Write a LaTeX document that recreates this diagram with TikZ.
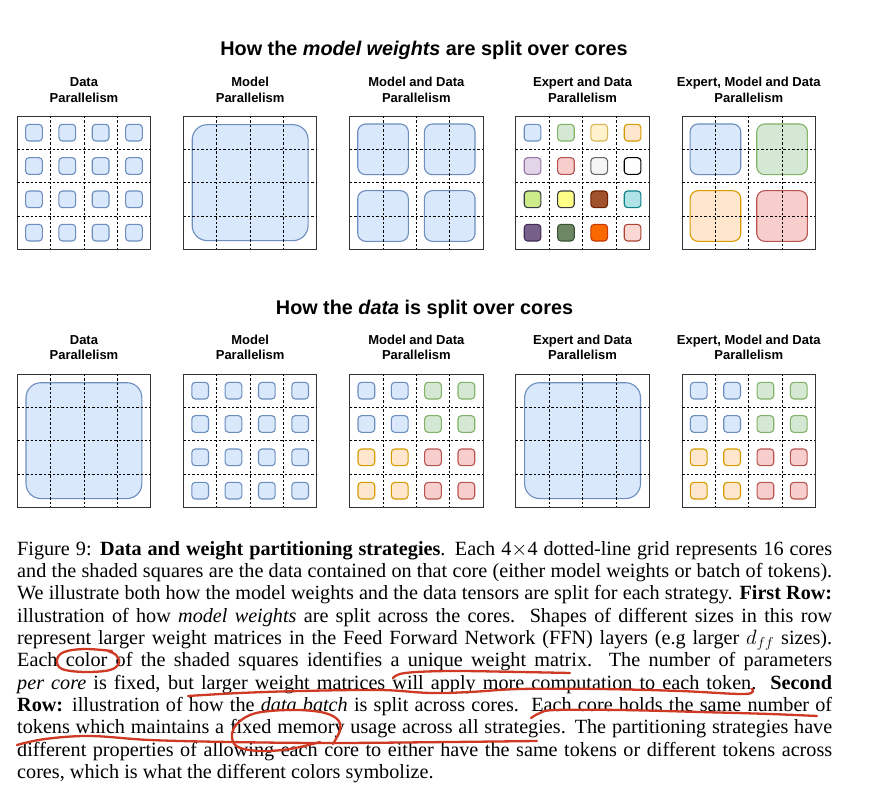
\documentclass[tikz,border=0pt]{standalone}
\usepackage{fontspec}
\setmainfont{Liberation Serif}
\newfontfamily\hvf{Liberation Sans}
\definecolor{blF}{HTML}{DAE8FC}\definecolor{blD}{HTML}{6C8EBF}
\definecolor{grF}{HTML}{D5E8D4}\definecolor{grD}{HTML}{82B366}
\definecolor{yeF}{HTML}{FFF2CC}\definecolor{yeD}{HTML}{D6B656}
\definecolor{orF}{HTML}{FFE6CC}\definecolor{orD}{HTML}{D79B00}
\definecolor{puF}{HTML}{E1D5E7}\definecolor{puD}{HTML}{9673A6}
\definecolor{reF}{HTML}{F8CECC}\definecolor{reD}{HTML}{B85450}
\definecolor{gyF}{HTML}{F5F5F5}\definecolor{gyD}{HTML}{666666}
\definecolor{whF}{HTML}{FFFFFF}\definecolor{whD}{HTML}{000000}
\definecolor{liF}{HTML}{CDEB8B}\definecolor{liD}{HTML}{36393D}
\definecolor{ybF}{HTML}{FFFF88}\definecolor{ybD}{HTML}{36393D}
\definecolor{brF}{HTML}{A0522D}\definecolor{brD}{HTML}{6D1F00}
\definecolor{cyF}{HTML}{B0E3E6}\definecolor{cyD}{HTML}{0E8088}
\definecolor{dpF}{HTML}{76608A}\definecolor{dpD}{HTML}{432D57}
\definecolor{dgF}{HTML}{6D8764}\definecolor{dgD}{HTML}{3A5431}
\definecolor{doF}{HTML}{FA6800}\definecolor{doD}{HTML}{C73500}
\definecolor{pkF}{HTML}{FAD9D5}\definecolor{pkD}{HTML}{AE4132}
\definecolor{annred}{HTML}{CF3A24}
\tikzset{
  gridbox/.style={draw=black!80,line width=0.9pt,minimum width=133.333pt,minimum height=133.333pt,inner sep=0pt,outer sep=0pt},
  gridline/.style={black,line width=0.8pt,dash pattern=on 2.4pt off 2pt},
  sqs/.style={line width=1.1pt,rounded corners=3.5pt},
  ttl/.style={font=\hvf\bfseries\fontsize{19.8}{24}\selectfont,inner sep=0pt},
  lab/.style={font=\hvf\bfseries\fontsize{13}{15}\selectfont,inner sep=0pt},
  captext/.style={font=\fontsize{20.2}{22.35}\selectfont,inner sep=0pt,anchor=base west},
  ann/.style={draw=annred,line width=2.3pt,line cap=round,line join=round},
}
\newcommand\ssq[5]{\path[sqs,fill=#5F,draw=#5D] ({#1+(#3+0.5)*33.333-8.35},{#2+(#4+0.5)*33.333-8.35}) rectangle ++(16.7,16.7);}
\newcommand\fsq[3]{\path[sqs,rounded corners=15pt,fill=#3F,draw=#3D] ({#1+8.7},{#2+8.7}) rectangle ++(115.9,115.9);}
\newcommand\qsq[5]{\path[sqs,rounded corners=8pt,fill=#5F,draw=#5D] ({#1+#3*66.667+8},{#2+#4*66.667+8}) rectangle ++(50.67,50.67);}
\newcommand\grd[3]{\node[gridbox] (#1) at ({#2+66.667},{#3+66.667}) {};
  \foreach \k in {1,2,3}{\draw[gridline] ({#2+\k*33.333},#3) -- ({#2+\k*33.333},{#3+133.333});
    \draw[gridline] (#2,{#3+\k*33.333}) -- ({#2+133.333},{#3+\k*33.333});}}
\newcommand\lbl[5]{\node[lab,anchor=base] (#1a) at (#2,#3) {#4};\node[lab,anchor=base] (#1b) at (#2,{#3+15.7}) {#5};}
\newcommand\capl[3]{\node[captext] (#1) at (17,#2) {\makebox[815pt][s]{#3}};}
\begin{document}
\begin{tikzpicture}[x=1pt,y=-1pt]
\useasboundingbox[fill=white] (0,0) rectangle (879,789);
% titles
\node[ttl,anchor=base] (t1) at (424,56) {How the \textit{model weights} are split over cores};
\node[ttl,anchor=base] (t2) at (424.5,314) {How the \textit{data} is split over cores};
% labels
\lbl{la1}{83.97}{87}{Data}{Parallelism}
\lbl{la2}{250.17}{87}{Model}{Parallelism}
\lbl{la3}{416.37}{87}{Model and Data}{Parallelism}
\lbl{la4}{582.57}{87}{Expert and Data}{Parallelism}
\lbl{la5}{748.77}{87}{Expert, Model and Data}{Parallelism}
\lbl{lb1}{83.97}{344}{Data}{Parallelism}
\lbl{lb2}{250.17}{344}{Model}{Parallelism}
\lbl{lb3}{416.37}{344}{Model and Data}{Parallelism}
\lbl{lb4}{582.57}{344}{Expert and Data}{Parallelism}
\lbl{lb5}{748.77}{344}{Expert, Model and Data}{Parallelism}
% ---- top row squares
\foreach \i in {0,...,3}{\foreach \j in {0,...,3}{\ssq{17.3}{116}{\i}{\j}{bl}}}
\fsq{183.5}{116}{bl}
\foreach \i in {0,1}{\foreach \j in {0,1}{\qsq{349.7}{116}{\i}{\j}{bl}}}
\foreach \cc [count=\n from 0] in {bl,gr,ye,or,pu,re,gy,wh,li,yb,br,cy,dp,dg,do,pk}{
  \pgfmathtruncatemacro\ii{mod(\n,4)}\pgfmathtruncatemacro\jj{\n/4}
  \ssq{515.9}{116}{\ii}{\jj}{\cc}}
\qsq{682.1}{116}{0}{0}{bl}\qsq{682.1}{116}{1}{0}{gr}
\qsq{682.1}{116}{0}{1}{or}\qsq{682.1}{116}{1}{1}{re}
% ---- bottom row squares
\fsq{17.3}{374}{bl}
\foreach \i in {0,...,3}{\foreach \j in {0,...,3}{\ssq{183.5}{374}{\i}{\j}{bl}}}
\foreach \cc [count=\n from 0] in {bl,bl,gr,gr,bl,bl,gr,gr,or,or,re,re,or,or,re,re}{
  \pgfmathtruncatemacro\ii{mod(\n,4)}\pgfmathtruncatemacro\jj{\n/4}
  \ssq{349.7}{374}{\ii}{\jj}{\cc}
  \ssq{682.1}{374}{\ii}{\jj}{\cc}}
\fsq{515.9}{374}{bl}
% ---- grids
\grd{ga1}{17.3}{116}\grd{ga2}{183.5}{116}\grd{ga3}{349.7}{116}\grd{ga4}{515.9}{116}\grd{ga5}{682.1}{116}
\grd{gb1}{17.3}{374}\grd{gb2}{183.5}{374}\grd{gb3}{349.7}{374}\grd{gb4}{515.9}{374}\grd{gb5}{682.1}{374}
% ---- caption
\capl{c1}{555}{Figure 9: \textbf{Data and weight partitioning strategies}. Each 4$\times$4 dotted-line grid represents 16 cores}
\capl{c2}{577.35}{and the shaded squares are the data contained on that core (either model weights or batch of tokens).}
\capl{c3}{599.7}{We illustrate both how the model weights and the data tensors are split for each strategy. \textbf{First Row:}}
\capl{c4}{622.05}{illustration of how \textit{model weights} are split across the cores.\ \ Shapes of different sizes in this row}
\capl{c5}{644.4}{represent larger weight matrices in the Feed Forward Network (FFN) layers (e.g larger $d_{ff}$ sizes).}
\capl{c6}{666.75}{Each color of the shaded squares identifies a unique weight matrix.\ \ The number of parameters}
\capl{c7}{689.1}{\textit{per core} is fixed, but larger weight matrices will apply more computation to each token.\ \ \textbf{Second}}
\capl{c8}{711.45}{\textbf{Row:} illustration of how the \textit{data batch} is split across cores.\ \ Each core holds the same number of}
\capl{c9}{733.8}{tokens which maintains a fixed memory usage across all strategies. The partitioning strategies have}
\capl{c10}{756.15}{different properties of allowing each core to either have the same tokens or different tokens across}
\node[captext] (c11) at (17,778.5) {cores, which is what the different colors symbolize.};
% ---- red annotations
\draw[ann] plot[smooth,tension=0.6] coordinates {(112,651) (85,649) (64,652) (57,660) (62,669) (85,672) (110,670) (119,663) (116,655) (108,651)};
\draw[ann] plot[smooth,tension=0.6] coordinates {(393,678) (405,673) (450,671) (520,672) (570,673)};
\draw[ann] plot[smooth,tension=0.6] coordinates {(188,696) (240,693) (300,691) (380,690) (430,693) (470,692) (520,689) (600,689) (680,691) (745,694) (752,689)};
\draw[ann] plot[smooth,tension=0.6] coordinates {(531,718) (540,713) (555,710) (620,710) (700,712) (770,714) (817,716)};
\draw[ann] plot[smooth,tension=0.6] coordinates {(17,745) (45,739) (90,736) (150,740) (230,742) (330,743) (450,742) (537,741)};
\draw[ann] plot[smooth,tension=0.6] coordinates {(333,744) (340,730) (338,720) (325,713) (300,710) (270,711) (250,715) (236,725) (232,737) (238,747) (260,751) (290,749) (320,742)};
\end{tikzpicture}
\end{document}
